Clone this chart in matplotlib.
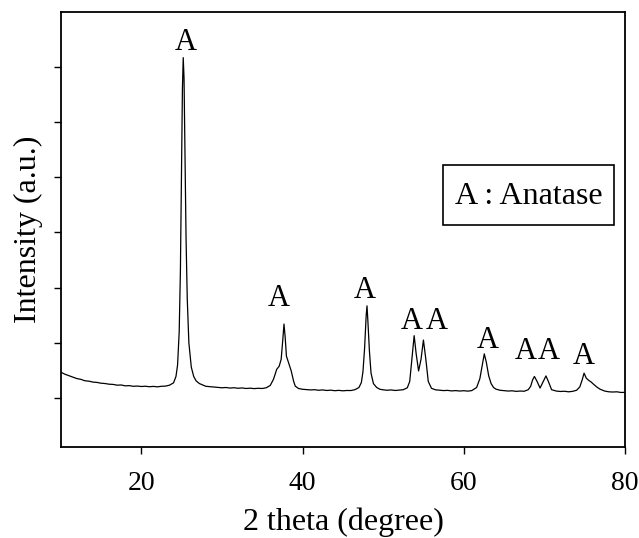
import matplotlib
matplotlib.use("Agg")
import matplotlib.pyplot as plt
from matplotlib.patches import Rectangle

plt.rcParams['font.family'] = ['Liberation Serif', 'DejaVu Serif']

# 2 theta (degree) and intensity (a.u.)
two_theta = [
    10.0, 10.5, 11.0, 11.5, 12.0, 12.5, 13.0, 13.5, 14.0, 14.5, 15.0, 15.5,
    16.0, 16.5, 17.0, 17.5, 18.0, 18.5, 19.0, 19.5, 20.0, 20.5, 21.0, 21.5,
    22.0, 22.5, 23.0, 23.5, 24.0, 24.3, 24.5, 24.7, 24.85, 25.0, 25.1, 25.2,
    25.3, 25.4, 25.55, 25.7, 25.9, 26.2, 26.5, 26.8, 27.2, 27.6, 28.0, 28.5,
    29.0, 29.5, 30.0, 30.5, 31.0, 31.5, 32.0, 32.5, 33.0, 33.5, 34.0, 34.5,
    35.0, 35.5, 36.0, 36.4, 36.8, 37.1, 37.35, 37.55, 37.7, 37.85, 38.0, 38.25,
    38.6, 38.9, 39.1, 39.5, 40.0, 40.5, 41.0, 41.5, 42.0, 42.5, 43.0, 43.5,
    44.0, 44.5, 45.0, 45.5, 46.0, 46.5, 47.0, 47.3, 47.5, 47.7, 47.9, 48.0,
    48.1, 48.3, 48.5, 48.8, 49.2, 49.6, 50.0, 50.5, 51.0, 51.5, 52.0, 52.5,
    53.0, 53.3, 53.6, 53.85, 54.1, 54.4, 54.7, 55.0, 55.3, 55.6, 56.0, 56.5,
    57.0, 57.5, 58.0, 58.5, 59.0, 59.5, 60.0, 60.5, 61.0, 61.6, 62.0, 62.3,
    62.55, 62.8, 63.1, 63.4, 63.7, 64.0, 64.5, 65.0, 65.5, 66.0, 66.5, 67.0,
    67.5, 68.0, 68.3, 68.55, 68.77, 69.1, 69.47, 69.8, 70.2, 70.5, 70.9, 71.5,
    72.0, 72.5, 73.0, 73.5, 74.0, 74.4, 74.7, 74.93, 75.2, 75.5, 75.8, 76.1,
    76.5, 76.9, 77.5, 78.0, 78.5, 79.0, 79.5, 80.0,
]
intensity = [
    1470, 1432, 1405, 1380, 1352, 1338, 1312, 1305, 1288, 1282, 1268, 1262,
    1250, 1246, 1232, 1236, 1220, 1224, 1212, 1216, 1208, 1213, 1204, 1210,
    1202, 1212, 1215, 1232, 1275, 1390, 1600, 2200, 3300, 5200, 6600, 7170,
    6800, 5600, 3900, 2800, 2000, 1560, 1390, 1310, 1262, 1238, 1212, 1205,
    1196, 1192, 1185, 1190, 1180, 1186, 1176, 1182, 1172, 1178, 1170, 1176,
    1172, 1185, 1228, 1340, 1520, 1575, 1700, 2050, 2340, 2100, 1760, 1650,
    1490, 1300, 1215, 1172, 1158, 1152, 1146, 1150, 1140, 1146, 1136, 1142,
    1132, 1138, 1130, 1136, 1135, 1150, 1190, 1280, 1480, 1900, 2500, 2670,
    2420, 1850, 1450, 1260, 1190, 1158, 1148, 1140, 1146, 1136, 1142, 1150,
    1185, 1300, 1750, 2130, 1800, 1490, 1700, 2050, 1700, 1300, 1175, 1148,
    1140, 1134, 1138, 1128, 1134, 1126, 1132, 1124, 1134, 1190, 1350, 1600,
    1800, 1650, 1400, 1260, 1190, 1160, 1140, 1132, 1126, 1130, 1120, 1126,
    1122, 1150, 1210, 1330, 1390, 1300, 1180, 1280, 1400, 1300, 1150, 1125,
    1118, 1122, 1112, 1120, 1140, 1200, 1330, 1450, 1360, 1320, 1290, 1250,
    1200, 1160, 1125, 1112, 1108, 1112, 1100, 1102,
]

# peak markers ("A" = anatase)
label_x = [25.55, 37.1, 47.75, 53.55, 56.7, 62.93, 67.7, 70.5, 74.93]
label_y = [7440, 2800, 2940, 2390, 2390, 2050, 1840, 1840, 1750]
label_text = ["A"] * len(label_x)

x_ticks = [20, 40, 60, 80]
y_ticks = [1000, 2000, 3000, 4000, 5000, 6000, 7000]

fig = plt.figure(figsize=(6.39, 5.38), dpi=100)
ax = fig.add_axes([0.095, 0.169, 0.883, 0.809])

ax.plot(two_theta, intensity, color='black', lw=0.9)

for lx, ly, t in zip(label_x, label_y, label_text):
    ax.text(lx, ly, t, ha='center', va='center', fontsize=22)

ax.set_xlim(10, 80)
ax.set_ylim(110, 8000)
ax.set_xticks(x_ticks)
ax.set_xticklabels([str(v) for v in x_ticks])
ax.set_yticks(y_ticks)
ax.set_yticklabels([])
ax.tick_params(axis='both', direction='out', length=5, width=1.0, labelsize=20, pad=12)

for s in ax.spines.values():
    s.set_linewidth(1.3)

# legend box
ax.add_patch(Rectangle((0.678, 0.510), 0.303, 0.137, transform=ax.transAxes,
                       fill=False, edgecolor='black', lw=1.2))
ax.text(0.8295, 0.575, "A : Anatase", transform=ax.transAxes, ha='center',
        va='center', fontsize=23)

fig.text(0.537, 0.030, "2 theta (degree)", ha='center', va='center', fontsize=23)
fig.text(0.044, 0.574, "Intensity (a.u.)", ha='center', va='center',
         rotation=90, fontsize=23)

fig.savefig("out.png", dpi=100)
